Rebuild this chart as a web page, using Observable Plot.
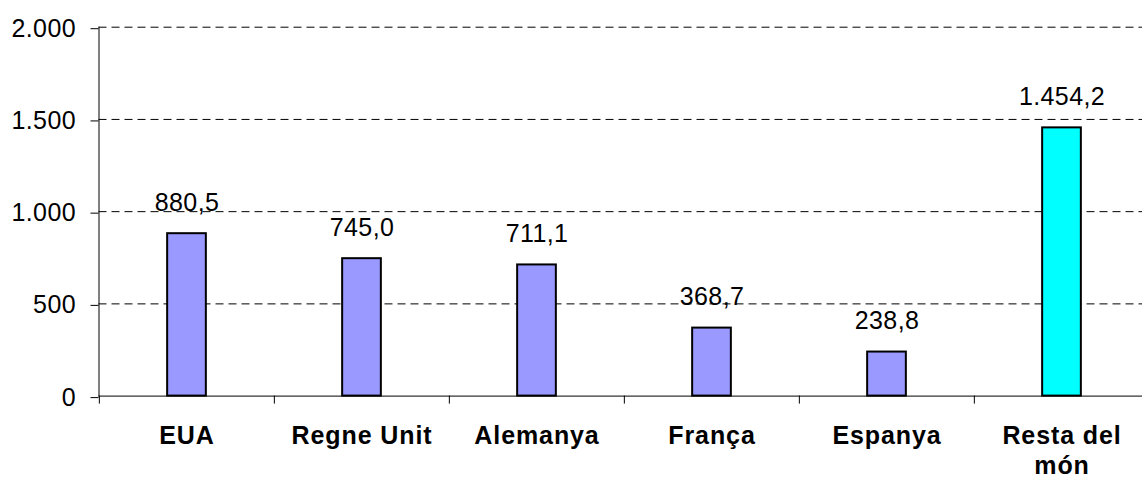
<!DOCTYPE html>
<html>
<head>
<meta charset="utf-8">
<script src="https://cdn.jsdelivr.net/npm/d3@7"></script>
<script src="https://cdn.jsdelivr.net/npm/@observablehq/plot@0.6"></script>
<style>
  html, body { margin: 0; padding: 0; background: #fff; }
  #chart { width: 1142px; height: 479px; overflow: hidden; }
  #chart g[aria-label="x-axis tick label"] text { letter-spacing: 0.9px; }
</style>
</head>
<body>
<div id="chart"></div>
<script>
// ---- data ----
const categories = ["EUA", "Regne Unit", "Alemanya", "França", "Espanya", "Resta del món"];
const values = [880.5, 745.0, 711.1, 368.7, 238.8, 1454.2];
const yTicks = [0, 500, 1000, 1500, 2000];
const highlight = "Resta del món";
const tickLabelLines = {"Resta del món": "Resta del\nmón"};

const data = categories.map((c, i) => ({cat: c, value: values[i]}));

const locale = d3.formatLocale({decimal: ",", thousands: ".", grouping: [3], currency: ["", " €"]});
const fmtInt = locale.format(",.0f");
const fmtVal = locale.format(",.1f");

const W = 1142, H = 479;
const mLeft = 98.5, mTop = 26.7, mBottom = 83.4;
const xRange = [98.5, 1150.3];
const step = (xRange[1] - xRange[0]) / categories.length;
const barW = 39;
const inset = (step - barW) / 2;

const chart = Plot.plot({
  width: W,
  height: H,
  marginLeft: mLeft,
  marginRight: 0,
  marginTop: mTop,
  marginBottom: mBottom,
  style: {fontFamily: "'Liberation Sans', Arial, sans-serif", background: "#fff", color: "#000", letterSpacing: "0.4px", overflow: "hidden"},
  x: {type: "band", domain: categories, range: xRange, padding: 0},
  y: {domain: [0, 2000], ticks: yTicks},
  marks: [
    Plot.gridY(yTicks.filter(d => d > 0), {stroke: "#000", strokeOpacity: 1, strokeWidth: 1, strokeDasharray: "8,5"}),
    Plot.barY(data, {
      x: "cat", y: "value",
      fill: d => d.cat === highlight ? "#00FFFF" : "#9999FF",
      stroke: "#000", strokeWidth: 2,
      insetLeft: inset, insetRight: inset
    }),
    Plot.ruleY([0], {stroke: "#000", strokeWidth: 1}),
    Plot.frame({anchor: "left", stroke: "#000", strokeWidth: 1}),
    Plot.axisY({ticks: yTicks, tickFormat: fmtInt, tickSize: 8, tickPadding: 15, fontSize: 25, label: null, dy: 1.5, stroke: "#000"}),
    Plot.axisX({tickSize: 8, tickFormat: () => "", dx: -step / 2, label: null, stroke: "#000"}),
    Plot.axisX({tickSize: 0, tickPadding: 27, tickFormat: d => tickLabelLines[d] || d, fontSize: 25, fontWeight: "bold", lineHeight: 1.2, label: null}),
    Plot.text(data, {x: "cat", y: "value", text: d => fmtVal(d.value), dy: -31, fontSize: 25, fill: "#000"})
  ]
});
document.getElementById("chart").appendChild(chart);
</script>
</body>
</html>
